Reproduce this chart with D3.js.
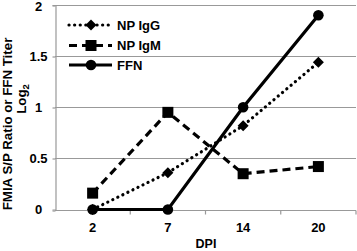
<!DOCTYPE html>
<html>
<head>
<meta charset="utf-8">
<script src="https://cdn.jsdelivr.net/npm/d3@7"></script>
<style>
  body { margin: 0; background: #fff; }
  text { font-family: "Liberation Sans", Arial, sans-serif; font-weight: bold; fill: #000; }
</style>
</head>
<body>
<div id="chart"></div>
<script>
// Data
const days = ['2', '7', '14', '20'];
const npIgG = [0, 0.36, 0.82, 1.44];
const npIgM = [0.16, 0.95, 0.35, 0.42];
const ffn = [0, 0, 1, 1.9];
const yTicks = [0, 0.5, 1, 1.5, 2];

const series = [
    { name: 'NP IgG', values: npIgG, dash: '0.1 5.5', marker: 'diamond' },
    { name: 'NP IgM', values: npIgM, dash: '8 5', marker: 'square' },
    { name: 'FFN', values: ffn, dash: null, marker: 'circle' }
];

const W = 357, H = 251;
const svg = d3.select('#chart').append('svg')
    .attr('width', W)
    .attr('height', H);

// Scales
const x = d3.scaleBand().domain(days).range([55, 356]).padding(0);
const y = d3.scaleLinear().domain([0, 2]).range([209.5, 5]);

// Gridlines
svg.append('g')
    .selectAll('line')
    .data(yTicks.filter(d => d > 0))
    .enter().append('line')
    .attr('x1', 55).attr('x2', 356)
    .attr('y1', d => Math.round(y(d)) + 0.5)
    .attr('y2', d => Math.round(y(d)) + 0.5)
    .attr('stroke', '#999')
    .attr('stroke-width', 1.2);

// Y axis
const yAxis = svg.append('g')
    .attr('transform', 'translate(55.5,0)')
    .call(d3.axisLeft(y).tickValues(yTicks).tickSize(3).tickFormat(d => d));
yAxis.select('.domain').attr('stroke', '#999').attr('stroke-width', 1.2);
yAxis.selectAll('.tick line').attr('stroke', '#999').attr('stroke-width', 1.2)
    .attr('transform', d => `translate(0,${Math.round(y(d)) + 0.5 - y(d)})`);
yAxis.selectAll('.tick text')
    .attr('x', -17)
    .attr('dy', d => d === 2 ? '0.42em' : '0.32em')
    .attr('text-anchor', 'middle')
    .style('font-size', '13px')
    .style('font-family', '"Liberation Sans", Arial, sans-serif')
    .style('font-weight', 'bold');

// X axis (ticks at category boundaries)
const xa = svg.append('g').attr('transform', `translate(0,${Math.round(y(0)) + 0.5})`);
xa.append('line')
    .attr('x1', 55).attr('x2', 356)
    .attr('stroke', '#999').attr('stroke-width', 1.2);
xa.selectAll('.bound')
    .data(days)
    .enter().append('line')
    .attr('class', 'bound')
    .attr('x1', d => x(d) + x.bandwidth()).attr('x2', d => x(d) + x.bandwidth())
    .attr('y1', 0).attr('y2', 4)
    .attr('stroke', '#999').attr('stroke-width', 1.2);
xa.selectAll('.lbl')
    .data(days)
    .enter().append('text')
    .attr('class', 'lbl')
    .attr('x', d => x(d) + x.bandwidth() / 2)
    .attr('y', 21)
    .attr('text-anchor', 'middle')
    .style('font-size', '13px')
    .text(d => d);

// Axis titles
svg.append('text')
    .attr('x', 206).attr('y', 248)
    .attr('text-anchor', 'middle')
    .style('font-size', '12.5px')
    .text('DPI');

svg.append('text')
    .attr('transform', 'translate(11.5,124) rotate(-90)')
    .attr('text-anchor', 'middle')
    .style('font-size', '13.3px')
    .text('FMIA S/P Ratio or FFN Titer');

const logT = svg.append('text')
    .attr('transform', 'translate(26,99) rotate(-90)')
    .attr('text-anchor', 'middle')
    .style('font-size', '13.3px');
logT.append('tspan').text('Log');
logT.append('tspan').attr('dy', 3).style('font-size', '9.5px').text('2');

// Marker drawing
const drawMarker = (g, type, cx, cy) => {
    if (type === 'diamond') {
        g.append('path')
            .attr('d', `M${cx},${cy - 5.5}L${cx + 5.5},${cy}L${cx},${cy + 5.5}L${cx - 5.5},${cy}Z`)
            .attr('fill', '#000');
    } else if (type === 'square') {
        g.append('rect')
            .attr('x', cx - 5.5).attr('y', cy - 5.5)
            .attr('width', 11).attr('height', 11)
            .attr('fill', '#000');
    } else {
        g.append('circle')
            .attr('cx', cx).attr('cy', cy).attr('r', 5.3)
            .attr('fill', '#000');
    }
};

const line = d3.line()
    .x((d, i) => x(days[i]) + x.bandwidth() / 2)
    .y(d => y(d));

// Series
series.forEach(s => {
    const g = svg.append('g');
    g.append('path')
        .datum(s.values)
        .attr('d', line)
        .attr('fill', 'none')
        .attr('stroke', '#000')
        .attr('stroke-width', 3.2)
        .attr('stroke-linecap', s.marker === 'diamond' ? 'round' : 'butt')
        .attr('stroke-dasharray', s.dash);
    s.values.forEach((v, i) => drawMarker(g, s.marker, x(days[i]) + x.bandwidth() / 2, y(v)));
});

// Legend
const legendY = [25, 45.5, 65];
series.forEach((s, i) => {
    const g = svg.append('g');
    g.append('line')
        .attr('x1', 69).attr('x2', 112)
        .attr('y1', legendY[i]).attr('y2', legendY[i])
        .attr('stroke', '#000')
        .attr('stroke-width', 3.2)
        .attr('stroke-linecap', s.marker === 'diamond' ? 'round' : 'butt')
        .attr('stroke-dasharray', s.dash);
    drawMarker(g, s.marker, 91, legendY[i]);
    g.append('text')
        .attr('x', 117).attr('y', legendY[i] + 4.5)
        .style('font-size', '13px')
        .text(s.name);
});
</script>
</body>
</html>
